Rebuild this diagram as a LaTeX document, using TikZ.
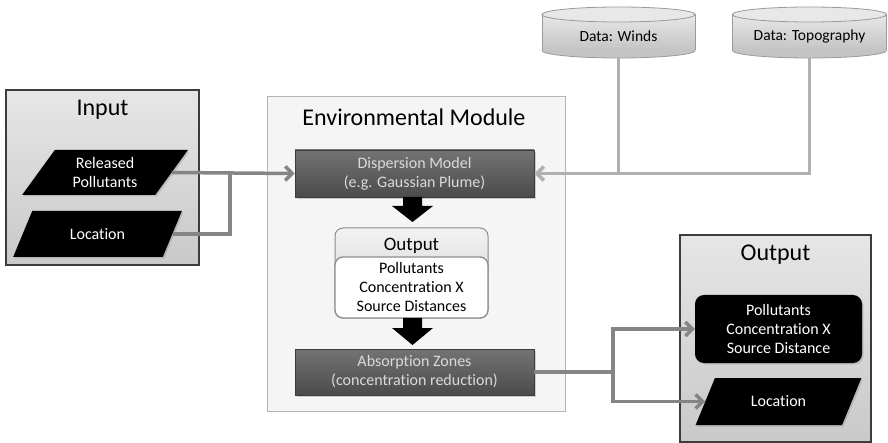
\documentclass[tikz,border=0pt]{standalone}
\usepackage{fontspec}
\setmainfont{Carlito}[Ligatures=NoCommon]
\usetikzlibrary{shapes.geometric,shadows,arrows.meta,calc}
\definecolor{grpA}{HTML}{E6E6E6}
\definecolor{grpB}{HTML}{C9C9C9}
\definecolor{envfill}{HTML}{F5F5F5}
\definecolor{envdraw}{HTML}{B4B4B4}
\definecolor{darkA}{HTML}{737373}
\definecolor{darkB}{HTML}{4B4B4B}
\definecolor{darkline}{HTML}{3C3C3C}
\definecolor{darktext}{HTML}{DADADA}
\definecolor{arrowgray}{HTML}{858585}
\definecolor{datagray}{HTML}{B0B0B0}
\definecolor{cylA}{HTML}{E8E8E8}
\definecolor{cylB}{HTML}{C4C4C4}
\definecolor{cyldraw}{HTML}{9A9A9A}
\definecolor{outdraw}{HTML}{8C8C8C}
\begin{document}
\begin{tikzpicture}[x=1pt,y=-1pt,
  titlef/.style={font=\fontsize{24}{28}\selectfont},
  bodyf/.style={font=\fontsize{16}{19}\selectfont},
  groupbox/.style={draw=darkline, line width=1.2pt, top color=grpA, bottom color=grpB, inner sep=0pt},
  envbox/.style={draw=envdraw, line width=1pt, fill=envfill, inner sep=0pt},
  darkbox/.style={draw=darkline, line width=0.6pt, top color=darkA, bottom color=darkB,
     text=darktext, bodyf, align=center, inner sep=0pt,
     drop shadow={shadow xshift=2pt, shadow yshift=-2pt, opacity=0.35}},
  blackpara/.style={trapezium, trapezium stretches=true, fill=black, text=white, bodyf,
     align=center, inner sep=0pt,
     drop shadow={shadow xshift=1.5pt, shadow yshift=-1.5pt, opacity=0.3}},
  garrow/.style={draw=arrowgray, line width=3.5pt, -{Straight Barb[length=7pt,width=14pt]}},
  gline/.style={draw=arrowgray, line width=3.5pt},
  darrow/.style={draw=datagray, line width=3.5pt, -{Straight Barb[length=7pt,width=14pt]}},
  dline/.style={draw=datagray, line width=3.5pt},
  cylfill/.style={top color=cylA, bottom color=cylB},
  cyldrawst/.style={draw=cyldraw, line width=0.8pt}
]
\useasboundingbox (0,0) rectangle (888,443);

% ---------------- Input group ----------------
\node[groupbox, minimum width=193pt, minimum height=175pt] (inbox) at (102.5,177.5) {};
\node[titlef] (intitle) at (102.5,110) {Input};
\node[blackpara, trapezium left angle=55, trapezium right angle=125,
      minimum width=166pt, minimum height=45pt] (rp) at (105,172.5) {Released\\Pollutants};
\node[blackpara, trapezium left angle=54, trapezium right angle=126,
      minimum width=169pt, minimum height=46pt] (loc) at (97.5,234) {Location};

% ---------------- Environmental module ----------------
\node[envbox, minimum width=298pt, minimum height=314pt] (env) at (416,254) {};
\node[titlef] (envtitle) at (414,117) {Environmental Module};
\node[darkbox, minimum width=239pt, minimum height=47pt] (disp) at (414.5,173.5)
   {Dispersion Model\\(e.g. Gaussian Plume)};
\node[darkbox, minimum width=239pt, minimum height=46pt] (abs) at (414.5,372)
   {Absorption Zones\\(concentration reduction)};

% inner output
\node[draw=outdraw, line width=1pt, rounded corners=8pt, top color=white!95!black,
      bottom color=white!80!black, minimum width=153pt, minimum height=90pt, inner sep=0pt]
      (ohead) at (411.5,273) {};
\node[font=\fontsize{19}{22}\selectfont] (otitle) at (411.5,246) {Output};
\node[draw=outdraw, line width=1.3pt, rounded corners=8pt, fill=white,
      minimum width=153pt, minimum height=61pt, inner sep=0pt, bodyf, align=center]
      (obody) at (411.5,287.5) {Pollutants\\Concentration X\\Source Distances};

% block arrows
\fill[black] (403,197) -- (422,197) -- (422,206) -- (433,206) -- (412.5,222)
   -- (392,206) -- (403,206) -- cycle;
\fill[black] (403,318) -- (422,318) -- (422,328) -- (433,328) -- (412.5,345)
   -- (392,328) -- (403,328) -- cycle;

% ---------------- Data cylinders ----------------
% Winds
\filldraw[cyldrawst, fill=cylB] (618.5,50.5) ellipse [x radius=76.5, y radius=7.5];
\fill[cylfill] (542,14.5) rectangle (695,50.5);
\draw[cyldrawst] (542,14.5) -- (542,50.5) (695,14.5) -- (695,50.5);
\filldraw[cyldrawst, fill=cylA] (618.5,14.5) ellipse [x radius=76.5, y radius=7.5];
\node[minimum width=153pt, minimum height=44pt, inner sep=0pt,
      font=\fontsize{15.5}{18}\selectfont] (winds) at (618.5,36) {Data: Winds};
% Topography
\filldraw[cyldrawst, fill=cylB] (809.5,50.5) ellipse [x radius=77, y radius=7.5];
\fill[cylfill] (732.5,14.5) rectangle (886.5,50.5);
\draw[cyldrawst] (732.5,14.5) -- (732.5,50.5) (886.5,14.5) -- (886.5,50.5);
\filldraw[cyldrawst, fill=cylA] (809.5,14.5) ellipse [x radius=77, y radius=7.5];
\node[minimum width=154pt, minimum height=44pt, inner sep=0pt,
      font=\fontsize{15.5}{18}\selectfont] (topo) at (809.5,36) {Data: Topography};

% ---------------- Output group ----------------
\node[groupbox, minimum width=191pt, minimum height=207pt] (outbox) at (775.5,338.5) {};
\node[titlef] (outtitle) at (775.5,255) {Output};
\node[fill=black, text=white, rounded corners=9pt, bodyf, align=center, inner sep=0pt,
      minimum width=167pt, minimum height=68pt,
      drop shadow={shadow xshift=1.5pt, shadow yshift=-1.5pt, opacity=0.3}]
      (polb) at (778.5,329) {Pollutants\\Concentration X\\Source Distance};
\node[blackpara, trapezium left angle=53, trapezium right angle=127,
      minimum width=167pt, minimum height=47pt] (locb) at (778.5,401.5) {Location};

% ---------------- Connectors ----------------
\coordinate (jin) at (230,0);
\draw[gline] (loc.east) -| (jin |- rp.east);
\draw[garrow] (rp.east) -- (disp.west);

\draw[dline] (winds.south) -- (winds.south |- disp.east);
\draw[darrow] (topo.south) |- (disp.east);

\coordinate (jout) at (613,0);
\draw[gline] (abs.east) -- (jout |- abs.east);
\draw[garrow] (jout |- abs.east) |- (polb.west);
\draw[garrow] (jout |- abs.east) |- (locb.west);
\end{tikzpicture}
\end{document}
